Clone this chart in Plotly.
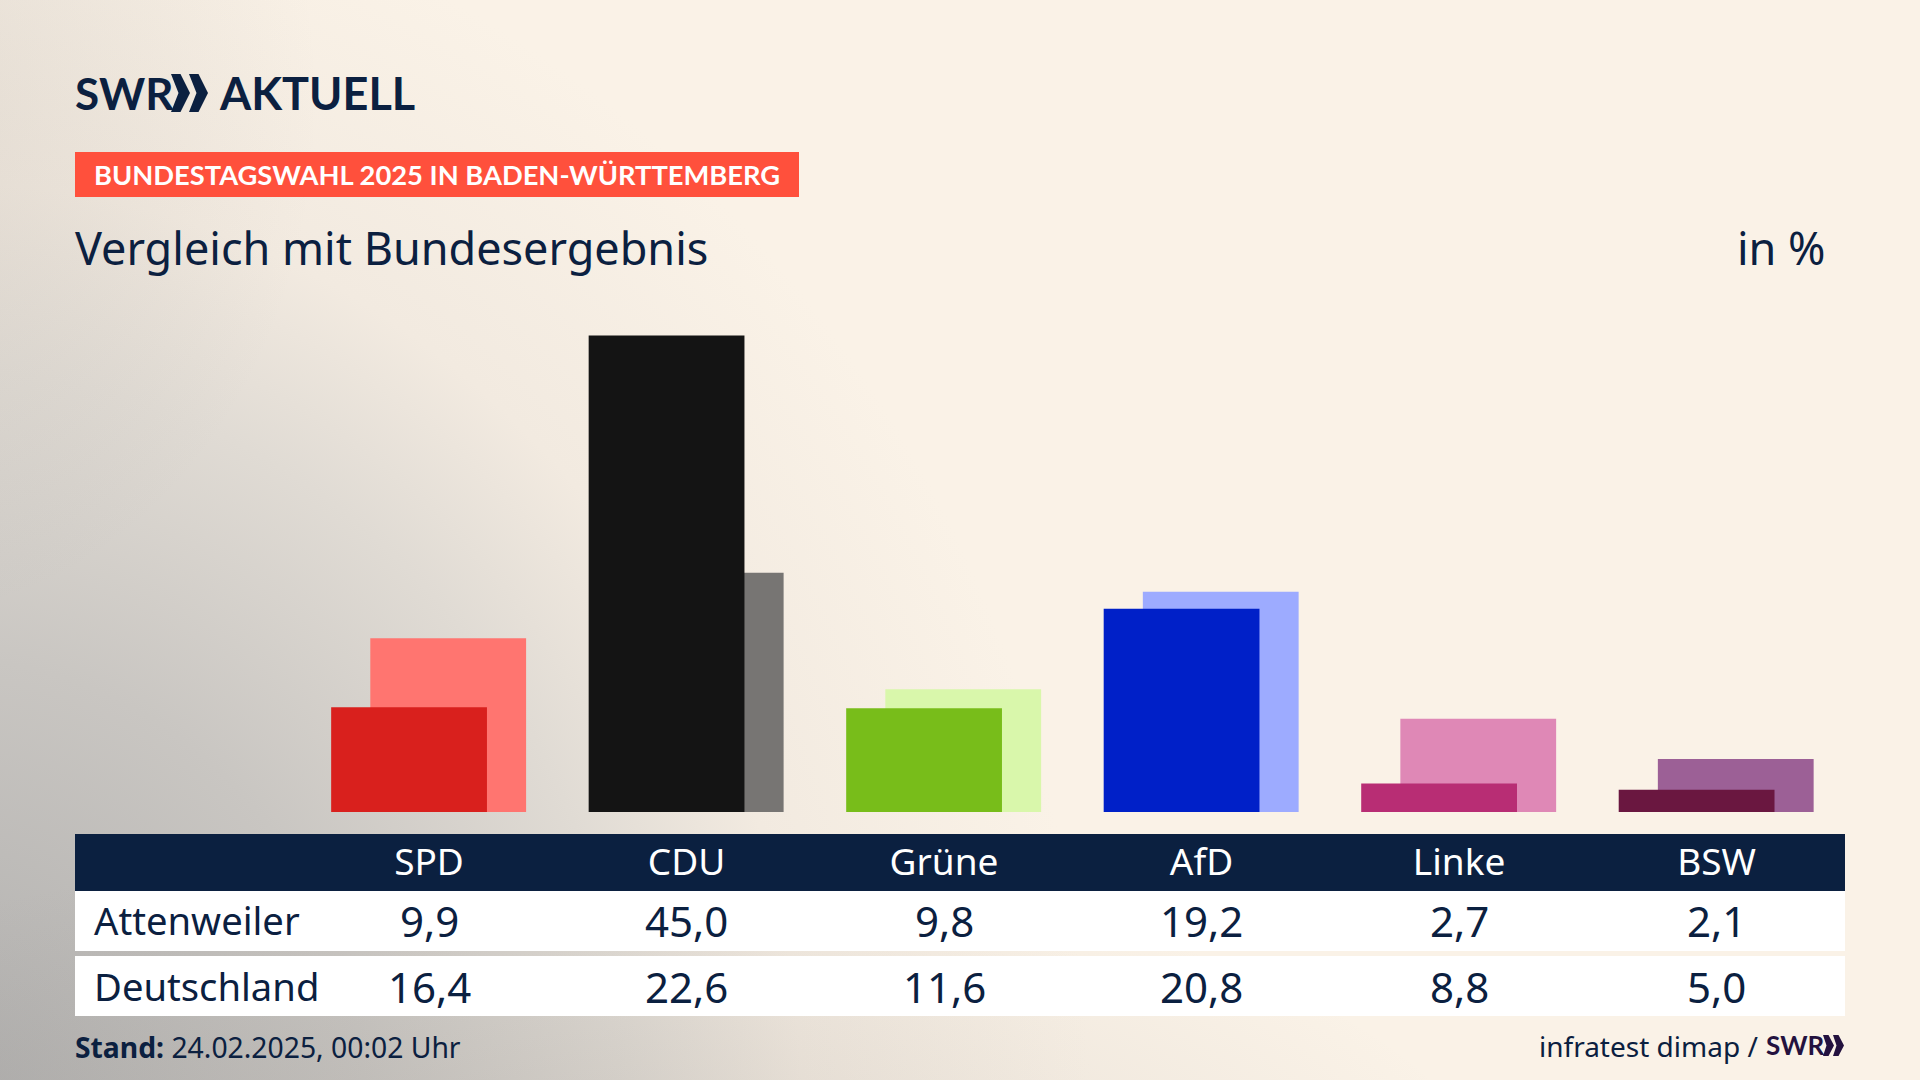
"""
Election chart: Vergleich mit Bundesergebnis
"""

import base64
import plotly.graph_objects as go


PARTIES = ['SPD', 'CDU', 'Grüne', 'AfD', 'Linke', 'BSW']
LOCAL_VALUES = [9.9, 45.0, 9.8, 19.2, 2.7, 2.1]
NATIONAL_VALUES = [16.4, 22.6, 11.6, 20.8, 8.8, 5.0]
LOCAL_COLORS = ['#d9201d', '#141414', '#78bd1a', '#0020c8', '#b82d74', '#6a1740']
NATIONAL_COLORS = ['#ff7570', '#777573', '#d9f7ab', '#9dabff', '#df88b6', '#9c6096']
ROW_NAMES = ['Attenweiler', 'Deutschland']

NAVY = '#0b2040'
FONT = 'Noto Sans'
BOLD_FONT = 'Lato'


def px_x(value: float) -> float:
    """Turn a canvas pixel into a paper x."""
    return value / 1920


def px_y(value: float) -> float:
    """Turn a canvas pixel (from the top) into a paper y."""
    return 1 - value / 1080


def background_image() -> str:
    """
    Build the soft grey corner of the background.

    Returns:
        Data URI of an SVG
    """
    svg = """<svg xmlns="http://www.w3.org/2000/svg" width="1920" height="1080">
    <defs><radialGradient id="g" gradientUnits="userSpaceOnUse" cx="0" cy="0" r="1"
    gradientTransform="translate(-60 1120) scale(1150 1250)">
    <stop offset="0" stop-color="#aeadac"/>
    <stop offset="0.37" stop-color="#c9c6c2"/>
    <stop offset="0.6" stop-color="#e0dbd4"/>
    <stop offset="0.75" stop-color="#f2eae0"/>
    <stop offset="1" stop-color="#faf2e7"/>
    </radialGradient>
    <radialGradient id="b" gradientUnits="userSpaceOnUse" cx="0" cy="0" r="1"
    gradientTransform="translate(500 1200) scale(1000 350)">
    <stop offset="0" stop-color="#8a8580" stop-opacity="0.22"/>
    <stop offset="1" stop-color="#8a8580" stop-opacity="0"/>
    </radialGradient>
    <radialGradient id="t" gradientUnits="userSpaceOnUse" cx="0" cy="0" r="1"
    gradientTransform="translate(-100 100) scale(420 520)">
    <stop offset="0" stop-color="#8a8580" stop-opacity="0.16"/>
    <stop offset="1" stop-color="#8a8580" stop-opacity="0"/>
    </radialGradient></defs>
    <rect width="1920" height="1080" fill="#faf2e7"/>
    <rect width="1920" height="1080" fill="url(#g)"/>
    <rect width="1920" height="1080" fill="url(#b)"/>
    <rect width="1920" height="1080" fill="url(#t)"/></svg>"""
    return 'data:image/svg+xml;base64,' + base64.b64encode(svg.encode()).decode()


def add_text(fig, text, x, y, size, color=NAVY, anchor='left', family=FONT):
    """Add one text block, x and y are given in canvas pixels."""
    fig.add_annotation(
        text=text,
        x=px_x(x),
        y=px_y(y),
        xref='paper',
        yref='paper',
        xanchor=anchor,
        yanchor='middle',
        showarrow=False,
        font=dict(family=family, size=size, color=color),
    )


def add_band(fig, x0, x1, y0, y1, color):
    """Add a filled band behind the bars, in canvas pixels."""
    fig.add_shape(
        type='rect',
        xref='paper',
        yref='paper',
        x0=px_x(x0),
        x1=px_x(x1),
        y0=px_y(y0),
        y1=px_y(y1),
        fillcolor=color,
        line_width=0,
        layer='below',
    )


def add_chevron(fig, x0, x1, y0, y1, color):
    """Add one arrow of the logo, in canvas pixels."""
    mid = px_y((y0 + y1) / 2)
    waist = x0 + (x1 - x0) * 0.5
    fig.add_shape(
        type='path',
        xref='paper',
        yref='paper',
        path=(
            f'M {px_x(x0)} {px_y(y0)} L {px_x(waist)} {px_y(y0)} '
            f'L {px_x(x1)} {mid} L {px_x(waist)} {px_y(y1)} '
            f'L {px_x(x0)} {px_y(y1)} L {px_x(waist - 2)} {mid} Z'
        ),
        fillcolor=color,
        line_width=0,
    )


def create_comparison_chart() -> go.Figure:
    """
    Create the overlapping bar chart with its table.

    Returns:
        The finished figure
    """
    # Create figure
    fig = go.Figure()

    fig.add_trace(go.Bar(
        name='Deutschland',
        x=PARTIES,
        y=NATIONAL_VALUES,
        marker_color=NATIONAL_COLORS,
        marker_line_width=0,
        width=0.605,
        offset=-0.228,
    ))

    fig.add_trace(go.Bar(
        name='Attenweiler',
        x=PARTIES,
        y=LOCAL_VALUES,
        marker_color=LOCAL_COLORS,
        marker_line_width=0,
        width=0.605,
        offset=-0.38,
    ))

    fig.update_layout(
        barmode='overlay',
        width=1920,
        height=1080,
        margin=dict(l=0, r=0, t=0, b=0),
        showlegend=False,
        paper_bgcolor='#faf2e7',
        plot_bgcolor='rgba(0,0,0,0)',
        xaxis=dict(
            type='category',
            categoryorder='array',
            categoryarray=PARTIES,
            range=[-1.666, 5.79],
            showgrid=False,
            zeroline=False,
            showline=False,
            ticks='',
            ticklabelstandoff=25,
            tickfont=dict(family=FONT, size=37, color='white'),
        ),
        yaxis=dict(
            domain=[268 / 1080, 1],
            range=[0, 76.68],
            visible=False,
        ),
        images=[dict(
            source=background_image(),
            xref='paper',
            yref='paper',
            x=0,
            y=1,
            sizex=1,
            sizey=1,
            sizing='stretch',
            xanchor='left',
            yanchor='top',
            layer='below',
        )],
    )

    # Bands of the head and the table
    add_band(fig, 75, 799, 152, 197, '#ff503c')
    add_band(fig, 75, 1845, 834, 891, NAVY)
    add_band(fig, 75, 1845, 891, 951, 'white')
    add_band(fig, 75, 1845, 956, 1016, 'white')

    # Head
    add_text(fig, '<b>SWR</b>', 73, 93, 44, family=BOLD_FONT)
    add_chevron(fig, 171, 190, 74, 112, NAVY)
    add_chevron(fig, 189, 208, 74, 112, NAVY)
    add_text(fig, '<b>AKTUELL</b>', 217, 93, 45, family=BOLD_FONT)
    add_text(fig, '<b>BUNDESTAGSWAHL 2025 IN BADEN-WÜRTTEMBERG</b>', 92, 175, 27.3,
             color='white', family=BOLD_FONT)
    add_text(fig, 'Vergleich mit Bundesergebnis', 73, 247, 45)
    add_text(fig, 'in %', 1828, 247, 45, anchor='right')

    # Table
    rows = [LOCAL_VALUES, NATIONAL_VALUES]
    row_centers = [920, 986]
    for name, values, center in zip(ROW_NAMES, rows, row_centers):
        add_text(fig, name, 92, center, 38.2)
        for party, value in zip(PARTIES, values):
            label = f'{value:.1f}'.replace('.', ',')
            fig.add_annotation(
                text=label,
                x=party,
                y=px_y(center),
                xref='x',
                yref='paper',
                yanchor='middle',
                showarrow=False,
                font=dict(family=FONT, size=42, color=NAVY),
            )

    # Footer
    add_text(fig, '<b>Stand:</b> 24.02.2025, 00:02 Uhr', 73, 1047, 28.3)
    add_text(fig, 'infratest dimap /', 1760, 1046, 28, anchor='right')
    add_text(fig, '<b>SWR</b>', 1826, 1045, 26, color='#24123f', anchor='right', family=BOLD_FONT)
    add_chevron(fig, 1823, 1834, 1035, 1056, '#24123f')
    add_chevron(fig, 1833, 1844, 1035, 1056, '#24123f')

    return fig


if __name__ == "__main__":
    fig = create_comparison_chart()

    # Save
    fig.write_html(
        "out.html",
        config={'displayModeBar': False},
        post_script="document.body.style.margin='0';",
    )
